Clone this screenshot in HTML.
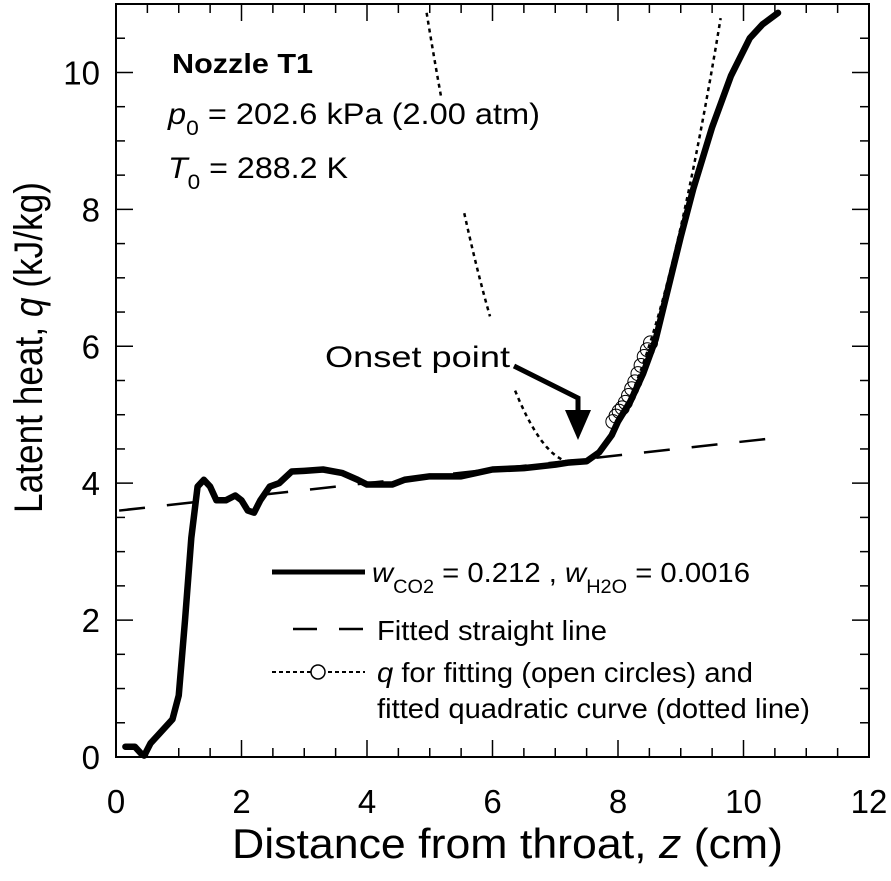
<!DOCTYPE html>
<html><head><meta charset="utf-8"><style>
body{margin:0;background:#fff}
svg{display:block;font-family:"Liberation Sans",Arial,sans-serif}
</style></head><body>
<svg id="chart" width="891" height="881" viewBox="0 0 891 881">
<g id="ticks"></g>
<g id="marks"></g>
<rect x="116" y="4" width="753" height="753" fill="none" stroke="#000" stroke-width="2"/>
<text x="172" y="73" font-size="28" font-weight="bold" textLength="141" lengthAdjust="spacingAndGlyphs">Nozzle T1</text>
<text x="168" y="124" font-size="30" textLength="372" lengthAdjust="spacingAndGlyphs"><tspan font-style="italic">p</tspan><tspan font-size="21" dy="11">0</tspan><tspan dy="-11"> = 202.6 kPa (2.00 atm)</tspan></text>
<text x="168" y="178" font-size="30" textLength="180" lengthAdjust="spacingAndGlyphs"><tspan font-style="italic">T</tspan><tspan font-size="21" dy="11">0</tspan><tspan dy="-11"> = 288.2 K</tspan></text>
<text x="325" y="367" font-size="30" textLength="185" lengthAdjust="spacingAndGlyphs">Onset point</text>
<g>
<polyline points="514,366 578,398 578,418" fill="none" stroke="#000" stroke-width="5"/>
<polygon points="565,410 591,410 578,440" fill="#000"/>
</g>
<g font-size="28">
<line x1="272" y1="572" x2="365" y2="572" stroke="#000" stroke-width="5"/>
<text x="372" y="582" textLength="378" lengthAdjust="spacingAndGlyphs"><tspan font-style="italic">w</tspan><tspan font-size="19" dy="11">CO2</tspan><tspan dy="-11"> = 0.212 ,  </tspan><tspan font-style="italic">w</tspan><tspan font-size="19" dy="11">H2O</tspan><tspan dy="-11"> = 0.0016</tspan></text>
<line x1="293" y1="629" x2="365" y2="629" stroke="#000" stroke-width="2.5" stroke-dasharray="24,22"/>
<text x="377" y="640" textLength="230" lengthAdjust="spacingAndGlyphs">Fitted straight line</text>
<line x1="272" y1="672" x2="365" y2="672" stroke="#000" stroke-width="2" stroke-dasharray="4,3"/>
<circle cx="318" cy="672" r="7" fill="#fff" stroke="#000" stroke-width="1.5"/>
<text x="377" y="682" textLength="376" lengthAdjust="spacingAndGlyphs"><tspan font-style="italic">q</tspan> for fitting (open circles) and</text>
<text x="377" y="718" textLength="433" lengthAdjust="spacingAndGlyphs">fitted quadratic curve (dotted line)</text>
</g>
<text x="232" y="858" font-size="42" textLength="551" lengthAdjust="spacingAndGlyphs">Distance from throat, <tspan font-style="italic">z</tspan> (cm)</text>
<text transform="translate(42,513) rotate(-90)" font-size="40" textLength="331" lengthAdjust="spacingAndGlyphs">Latent heat, <tspan font-style="italic">q</tspan> (kJ/kg)</text>
</svg>
<script>
const mainZ=[0.15,0.3,0.4,0.45,0.55,0.7,0.9,1.0,1.1,1.2,1.3,1.4,1.5,1.6,1.75,1.9,2.0,2.1,2.2,2.3,2.45,2.6,2.8,3.0,3.3,3.6,3.85,4.0,4.4,4.6,5.0,5.5,6.0,6.5,7.0,7.2,7.5,7.7,7.9,8.0,8.2,8.4,8.6,8.8,9.0,9.2,9.5,9.8,10.1,10.3,10.55];
const mainQ=[0.15,0.15,0.05,0.02,0.2,0.35,0.55,0.9,2.0,3.2,3.95,4.05,3.95,3.75,3.75,3.82,3.75,3.6,3.57,3.75,3.95,4.0,4.17,4.18,4.2,4.15,4.05,3.98,3.98,4.05,4.1,4.1,4.2,4.22,4.27,4.3,4.32,4.45,4.7,4.9,5.2,5.6,6.1,6.85,7.6,8.3,9.2,9.95,10.5,10.7,10.87];
const lineZ=[0.05,10.6];
const lineQ=[3.6,4.67];
const quadVertexZ=7.3, quadVertexQ=4.3, quadA=1.19;
const quadSegments=[[4.95,5.18],[5.55,5.96],[6.36,9.72]];
const circleZ=[7.95,8.0,8.05,8.1,8.15,8.2,8.25,8.3,8.35,8.4,8.45,8.5,8.55];
const circleQ=[4.9,4.98,5.05,5.1,5.18,5.28,5.38,5.48,5.6,5.72,5.85,5.95,6.05];
const xTicks=[0,2,4,6,8,10,12];
const yTicks=[0,2,4,6,8,10];
const NS="http://www.w3.org/2000/svg";
const X0=116,X1=869,Y0=757,Y1=4,XMAX=12,YMAX=11;
const sx=z=>X0+z/XMAX*(X1-X0);
const sy=q=>Y0-q/YMAX*(Y0-Y1);
const marks=document.getElementById('marks'),tk=document.getElementById('ticks');
function mk(tag,a,p){const e=document.createElementNS(NS,tag);for(const k in a)e.setAttribute(k,a[k]);p.appendChild(e);return e;}
for(let i=0;i<=24;i++){const v=i*0.5,x=sx(v),L=(i%4===0)?17:9;
 const t1=mk('line',{x1:x,y1:Y0,x2:x,y2:Y0-L,stroke:'#000','stroke-width':1.5},tk);
 
 
 const t2=mk('line',{x1:x,y1:Y1,x2:x,y2:Y1+L,stroke:'#000','stroke-width':1.5},tk);
 
 }
for(let i=0;i<=22;i++){const v=i*0.5,y=sy(v),L=(i%4===0)?17:9;
 const t1=mk('line',{x1:X0,y1:y,x2:X0+L,y2:y,stroke:'#000','stroke-width':1.5},tk);
 
 
 const t2=mk('line',{x1:X1,y1:y,x2:X1-L,y2:y,stroke:'#000','stroke-width':1.5},tk);
 
 }
xTicks.forEach(v=>{const t=mk('text',{x:sx(v),y:813,'font-size':33,'text-anchor':'middle'},tk);t.textContent=v;
 
 });
yTicks.forEach(v=>{const t=mk('text',{x:100,y:sy(v)+12,'font-size':33,'text-anchor':'end'},tk);t.textContent=v;
 
 });
const fl=mk('line',{x1:sx(lineZ[0]),y1:sy(lineQ[0]),x2:sx(lineZ[1]),y2:sy(lineQ[1]),stroke:'#000','stroke-width':2.5,'stroke-dasharray':'26,22'},marks);


quadSegments.forEach(s=>{let pts=[];for(let i=0;i<=40;i++){const z=s[0]+(s[1]-s[0])*i/40;const q=quadVertexQ+quadA*(z-quadVertexZ)**2;if(q<=YMAX)pts.push(sx(z)+','+sy(q));}
 const p=mk('polyline',{points:pts.join(' '),fill:'none',stroke:'#000','stroke-width':2.5,'stroke-dasharray':'4,4'},marks);
 
 });
const mp=mk('polyline',{points:mainZ.map((z,i)=>sx(z)+','+sy(mainQ[i])).join(' '),fill:'none',stroke:'#000','stroke-width':6.5,'stroke-linejoin':'round','stroke-linecap':'round'},marks);


circleZ.forEach((z,i)=>{const c=mk('circle',{cx:sx(z)-2,cy:sy(circleQ[i]),r:7,fill:'none',stroke:'#000','stroke-width':1},marks);
 
 });
</script>
</body></html>
